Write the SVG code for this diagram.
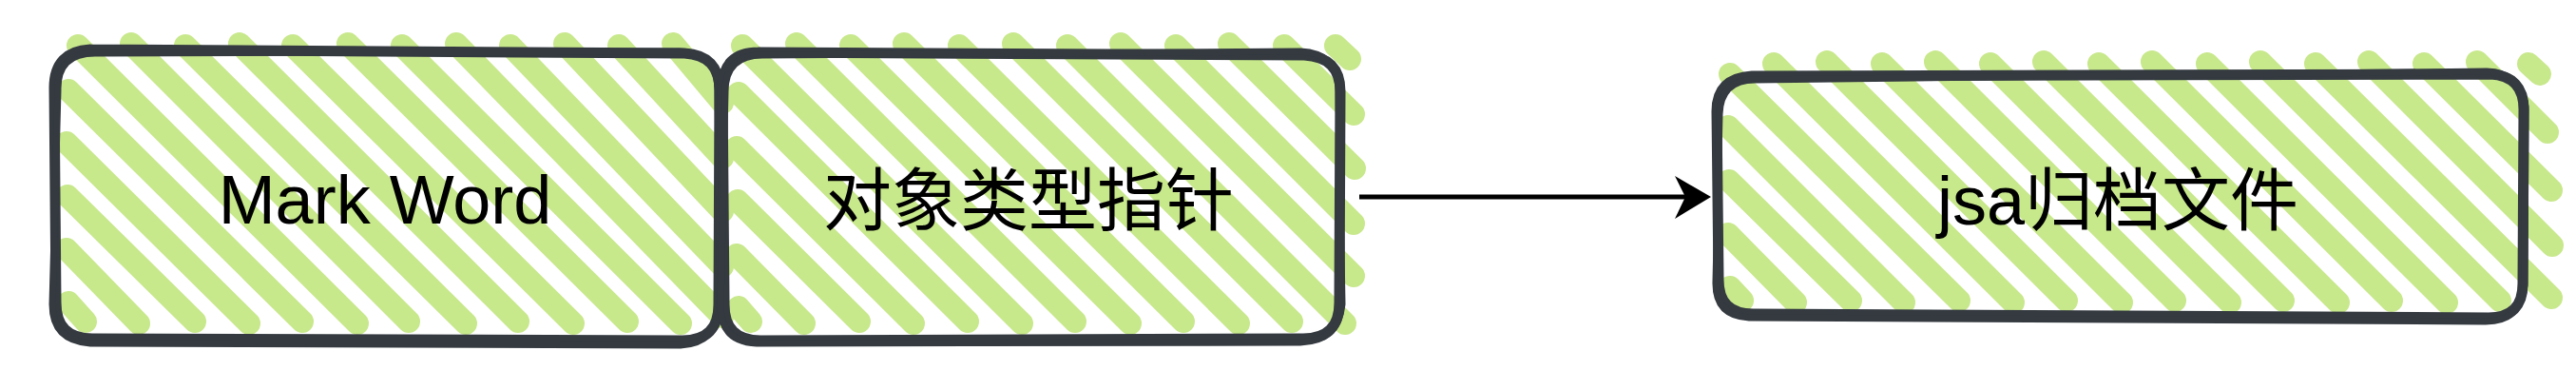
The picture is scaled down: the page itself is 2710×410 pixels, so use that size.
<svg xmlns="http://www.w3.org/2000/svg" width="2710" height="410" viewBox="0 0 2710 410">
  <style>
    .hach { fill: none; stroke: #c8e88c; stroke-width: 24; stroke-linecap: round; stroke-linejoin: round; }
    .border { fill: none; stroke: #343a40; stroke-width: 11; stroke-linecap: round; stroke-linejoin: round; }
    .border2 { fill: none; stroke: #343a40; stroke-width: 7; stroke-linecap: round; stroke-linejoin: round; }
    .label { font-family: "Liberation Sans", "Noto Sans CJK SC", sans-serif; font-size: 72px; fill: #000000; text-anchor: middle; }
    .conn { fill: none; stroke: #000000; stroke-width: 5; }
  </style>
  <defs>
    <marker id="arrowhead" markerUnits="userSpaceOnUse" markerWidth="40" markerHeight="50" viewBox="0 0 40 50" refX="28" refY="25" orient="auto">
      <path d="M 0 3 L 38 25 L 0 48 L 11 25 Z" fill="#000000"/>
    </marker>
  </defs>

  <g id="node-mark-word">
    <path class="hach" d="M72 318 L90 338 M70 262 L146 340 M71 206 L205 338 M70 150 L262 340 M72 95 L318 338 M82 48 L376 340 M138 46 L430 338 M195 48 L490 340 M252 46 L545 338 M308 48 L603 340 M366 46 L660 338 M423 48 L716 340 M480 46 L760 333 M537 48 L760 280 M594 46 L760 222 M651 48 L760 166 M708 46 L760 108"/>
    <path class="border" d="M95 52 L720 56 Q757 58 757 95 L756 320 Q756 358 718 358 L97 356 Q59 356 59 318 L57 92 Q57 54 95 52"/>
    <path class="border2" d="M100 56 L715 54 Q754 56 755 92 L758 318 Q755 361 716 363 L95 361 Q55 358 55 320 L61 95 Q60 56 100 56"/>
    <text class="label" x="405" y="235">Mark Word</text>
  </g>

  <g id="node-type-pointer">
    <path class="hach" d="M777 323 L790 338 M775 268 L846 340 M776 211 L904 338 M775 155 L961 340 M777 98 L1018 338 M781 48 L1075 340 M838 46 L1131 338 M895 48 L1189 340 M951 46 L1245 338 M1009 48 L1303 340 M1066 46 L1359 338 M1123 48 L1415 340 M1179 46 L1424 290 M1237 48 L1424 235 M1293 46 L1425 177 M1351 48 L1424 120 M1405 48 L1420 62"/>
    <path class="border" d="M798 55 L1372 58 Q1410 60 1410 96 L1409 318 Q1409 356 1371 356 L800 358 Q762 358 762 320 L760 93 Q760 55 798 55"/>
    <path class="border2" d="M802 58 L1368 54 Q1407 56 1408 92 L1412 320 Q1408 359 1368 360 L796 361 Q758 359 758 322 L763 96 Q763 58 802 58"/>
    <text class="label" x="1082" y="236">对象类型指针</text>
  </g>

  <g id="node-jsa-archive">
    <path class="hach" d="M1820 302 L1833 316 M1818 246 L1889 318 M1819 190 L1947 316 M1818 133 L2003 318 M1820 78 L2061 316 M1866 67 L2118 318 M1922 65 L2174 316 M1980 67 L2232 318 M2036 65 L2288 316 M2094 67 L2346 318 M2150 65 L2402 316 M2208 67 L2460 318 M2264 65 L2516 316 M2322 67 L2574 318 M2378 65 L2630 316 M2436 67 L2684 313 M2492 65 L2685 258 M2550 67 L2684 200 M2606 65 L2680 139 M2660 67 L2672 78"/>
    <path class="border" d="M1843 80 L2620 78 Q2655 80 2655 115 L2654 298 Q2654 334 2618 334 L1844 330 Q1808 330 1808 294 L1806 117 Q1806 82 1843 80"/>
    <path class="border2" d="M1846 84 L2616 75 Q2652 76 2657 112 L2656 300 Q2652 338 2615 338 L1840 334 Q1804 332 1805 296 L1809 120 Q1810 84 1846 84"/>
    <text class="label" x="2228" y="236">jsa归档文件</text>
  </g>

  <g id="connectors">
    <path class="conn" d="M1430 207 L1790 207" marker-end="url(#arrowhead)"/>
  </g>
</svg>
